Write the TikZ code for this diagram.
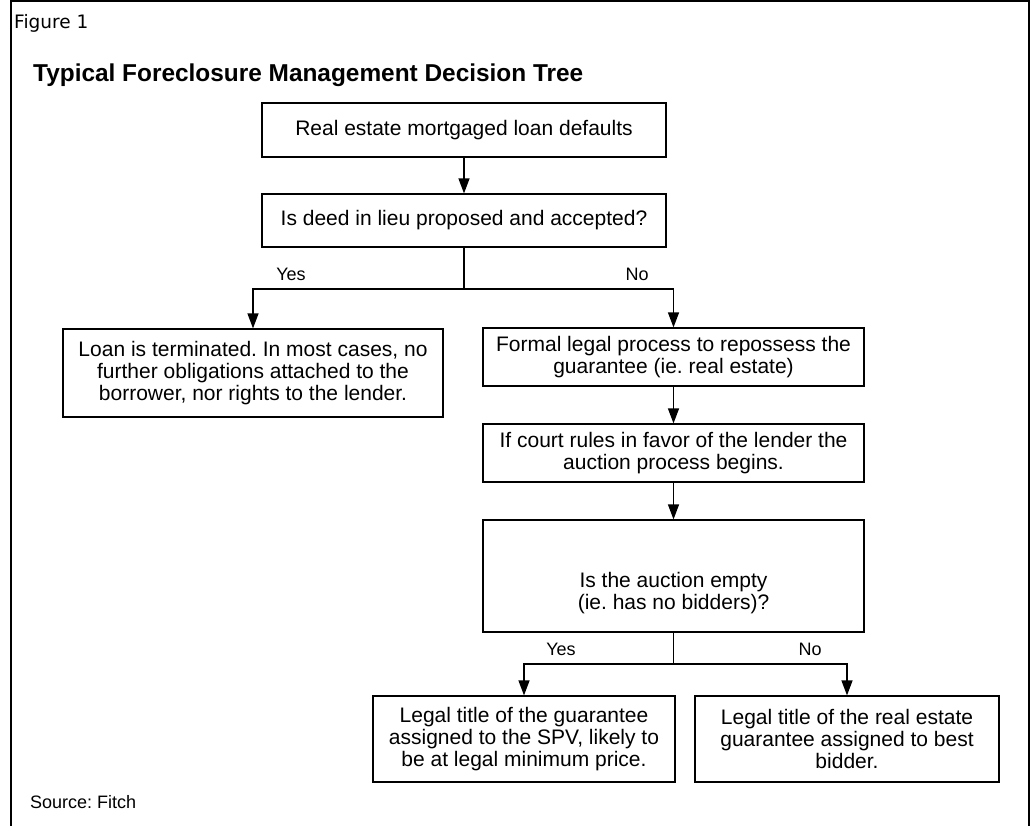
\documentclass[tikz,border=0pt]{standalone}
\usepackage{fontspec}
\setmainfont{Liberation Sans}
\newfontfamily\figfont{DejaVu Sans}
\usetikzlibrary{arrows.meta}
\frenchspacing
\begin{document}
\begin{tikzpicture}[x=1pt,y=-1pt,
  box/.style={draw=black, line width=1.2pt, rectangle, align=center, inner sep=0pt,
    font=\frenchspacing\fontsize{21}{21.8}\selectfont},
  txt/.style={align=center, inner sep=0pt, font=\frenchspacing\fontsize{21}{21.8}\selectfont},
  lab/.style={anchor=base, inner sep=0pt, font=\fontsize{18}{20}\selectfont},
  conn/.style={line width=1.2pt},
  arr/.style={line width=1.2pt, -{Triangle[length=15pt,width=11pt]}}]
\useasboundingbox (0,0) rectangle (1035,825);
\fill[white] (0,0) rectangle (1035,825);
% outer frame
\draw[line width=2.5pt] (11,826) -- (11,1.2) -- (1029,1.2) -- (1029,826);
% header texts
\node[anchor=base west, inner sep=0pt, font=\figfont\fontsize{18.5}{20}\selectfont] (fig) at (14,28) {Figure 1};
\node[anchor=base west, inner sep=0pt, font=\bfseries\fontsize{24.4}{28}\selectfont] (title) at (33,81) {Typical Foreclosure Management Decision Tree};
\node[anchor=base west, inner sep=0pt, font=\frenchspacing\fontsize{18}{20}\selectfont] (src) at (30,808) {Source: Fitch};
% boxes
\node[box, minimum width=404pt, minimum height=54pt] (b1) at (464,130) {Real estate mortgaged loan defaults};
\node[box, minimum width=404pt, minimum height=53pt] (b2) at (464,220.5) {Is deed in lieu proposed and accepted?};
\node[box, minimum width=380pt, minimum height=88pt] (b3) at (253,373) {Loan is terminated. In most cases, no\\further obligations attached to the\\borrower, nor rights to the lender.};
\node[box, minimum width=381pt, minimum height=58pt] (b4) at (673.5,357) {Formal legal process to repossess the\\guarantee (ie. real estate)};
\node[box, minimum width=381pt, minimum height=58pt] (b5) at (673.5,453) {If court rules in favor of the lender the\\auction process begins.};
\node[box, minimum width=381pt, minimum height=112pt] (b6) at (673.5,576) {};
\node[txt] (b6t) at (673.5,593) {Is the auction empty\\(ie. has no bidders)?};
\node[box, minimum width=302pt, minimum height=86pt] (b7) at (524,739) {Legal title of the guarantee\\assigned to the SPV, likely to\\be at legal minimum price.};
\node[box, minimum width=304pt, minimum height=86pt] (b8) at (847,739) {Legal title of the real estate\\guarantee assigned to best\\bidder.};
% junctions
\coordinate (j1) at (464,289);
\coordinate (j2) at (673.5,664);
% connectors
\draw[arr] (b1.south) -- (b2.north);
\draw[conn] (b2.south) -- (j1);
\draw[arr] (j1) -| (b3.north);
\draw[arr] (j1) -| (b4.north);
\draw[arr] (b4.south) -- (b5.north);
\draw[arr] (b5.south) -- (b6.north);
\draw[conn] (b6.south) -- (j2);
\draw[arr] (j2) -| (b7.north);
\draw[arr] (j2) -| (b8.north);
% labels
\node[lab] (y1) at (291,280) {Yes};
\node[lab] (n1) at (637,280) {No};
\node[lab] (y2) at (561,655) {Yes};
\node[lab] (n2) at (810,655) {No};
\end{tikzpicture}
\end{document}
